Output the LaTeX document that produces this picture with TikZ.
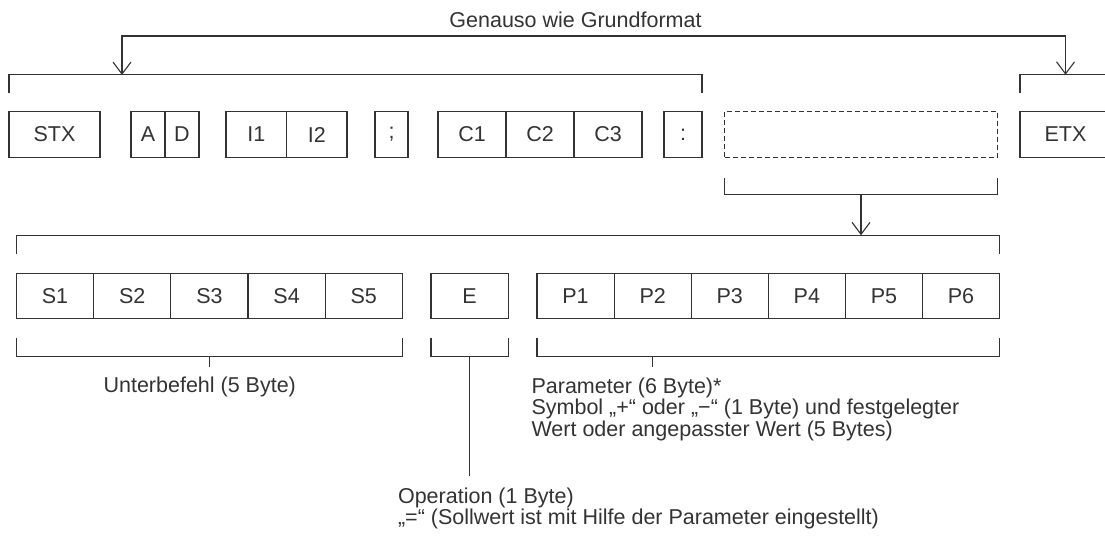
\documentclass[tikz,border=0pt]{standalone}
\usepackage{fontspec}
\setmainfont{Liberation Sans}
\usepackage{xcolor}
\usepackage{tikz}
\usetikzlibrary{positioning,arrows.meta,calc}
\definecolor{ink}{RGB}{51,51,51}

\begin{document}
\begin{tikzpicture}[x=0.5pt,y=-0.5pt,color=ink,line width=0.55pt,
    cell/.style={draw,minimum height=22.75pt,inner sep=0pt,outer sep=0pt,font=\fontsize{10.75pt}{12pt}\selectfont},
    lbl/.style={inner sep=0pt,align=left,font=\fontsize{10.75pt}{10.75pt}\selectfont},
    arr/.style={-{Straight Barb[length=6pt,width=9pt]}},
    arrs/.style={{Straight Barb[length=6pt,width=9pt]}-{Straight Barb[length=6pt,width=9pt]}}]
    \useasboundingbox (0,0) rectangle (1105,539);
    \node[cell,minimum width=45.5pt,anchor=west] (stx) at (9,134.5) {STX};
    \node[cell,minimum width=17pt,anchor=west] (a) at (131,134.5) {A};
    \node[cell,minimum width=17pt,right=0pt of a] (d) {D};
    \node[cell,minimum width=30.25pt,anchor=west] (i1) at (226,134.5) {I1};
    \node[cell,minimum width=30.25pt,right=0pt of i1] (i2) {I2};
    \node[cell,minimum width=16.5pt,anchor=west] (semi) at (375,134.5) {;};
    \node[cell,minimum width=34pt,anchor=west] (c1) at (438,134.5) {C1};
    \node[cell,minimum width=34pt,right=0pt of c1] (c2) {C2};
    \node[cell,minimum width=34pt,right=0pt of c2] (c3) {C3};
    \node[cell,minimum width=19pt,anchor=west] (colon) at (664,134.5) {:};
    \node[cell,minimum width=136.5pt,anchor=west,dash pattern=on 2.5pt off 1.5pt] (param) at (724.5,134.5) {};
    \node[cell,minimum width=45.5pt,anchor=west] (etx) at (1020,134.5) {ETX};

    \node[cell,minimum width=38.6pt,anchor=west] (s1) at (16.4,296) {S1};
    \node[cell,minimum width=38.6pt,right=0pt of s1] (s2) {S2};
    \node[cell,minimum width=38.6pt,right=0pt of s2] (s3) {S3};
    \node[cell,minimum width=38.6pt,right=0pt of s3] (s4) {S4};
    \node[cell,minimum width=38.6pt,right=0pt of s4] (s5) {S5};
    \node[cell,minimum width=38.6pt,anchor=west] (e) at (431,296) {E};
    \node[cell,minimum width=38.55pt,anchor=west] (p1) at (537,296) {P1};
    \node[cell,minimum width=38.55pt,right=0pt of p1] (p2) {P2};
    \node[cell,minimum width=38.55pt,right=0pt of p2] (p3) {P3};
    \node[cell,minimum width=38.55pt,right=0pt of p3] (p4) {P4};
    \node[cell,minimum width=38.55pt,right=0pt of p4] (p5) {P5};
    \node[cell,minimum width=38.55pt,right=0pt of p5] (p6) {P6};

    \node[lbl,anchor=base] (same) at (575.5,28) {Genauso wie Grundformat};
    \coordinate (fmt) at (575.5,36);
    \coordinate (basel) at (122,75);
    \coordinate (baser) at ($(etx.north)+(0,-37)$);
    \draw ($(stx.north west)+(0,-19)$) |- ($(colon.north east)+(0,-37)$) -- ($(colon.north east)+(0,-19)$);
    \draw ($(etx.north west)+(0,-19)$) |- ($(etx.north east)+(0,-37)$) -- ($(etx.north east)+(0,-19)$);
    \draw[arrs] (basel) |- (fmt) -| (baser);

    \draw ($(param.south west)+(0,21)$) |- ($(param.south east)+(0,37)$) -- ($(param.south east)+(0,21)$);
    \coordinate (sub) at ($(s1.north west)+(0,-38)$);
    \draw ($(s1.north west)+(0,-19)$) |- ($(p6.north east)+(0,-38)$) -- ($(p6.north east)+(0,-19)$);
    \draw[arr] ($(param.south)+(0,37)$) -- (param.south |- sub);

    \draw ($(s1.south west)+(0,19)$) |- ($(s5.south east)+(0,38)$) -- ($(s5.south east)+(0,19)$);
    \draw ($(e.south west)+(0,19)$) |- ($(e.south east)+(0,38)$) -- ($(e.south east)+(0,19)$);
    \draw ($(p1.south west)+(0,19)$) |- ($(p6.south east)+(0,38)$) -- ($(p6.south east)+(0,19)$);
    \draw ($(s3.south)+(0,38)$) -- ($(s3.south)+(0,48)$);
    \draw ($(e.south)+(0,38)$) -- ($(e.south)+(0,157)$);
    \draw ($(p2.south)+(0,38)$) -- ($(p2.south)+(0,48)$);

    \node[lbl,anchor=base west] (subcmd) at (103,393) {Unterbefehl (5 Byte)};
    \node[lbl,anchor=north west] (parlbl) at (531,377.3) {Parameter (6 Byte)*\\
      Symbol „+“ oder „−“ (1 Byte) und festgelegter\\
      Wert oder angepasster Wert (5 Bytes)};
    \node[lbl,anchor=north west] (oplbl) at (397.5,487.3) {Operation (1 Byte)\\
      „=“ (Sollwert ist mit Hilfe der Parameter eingestellt)};
  \end{tikzpicture}
\end{document}
